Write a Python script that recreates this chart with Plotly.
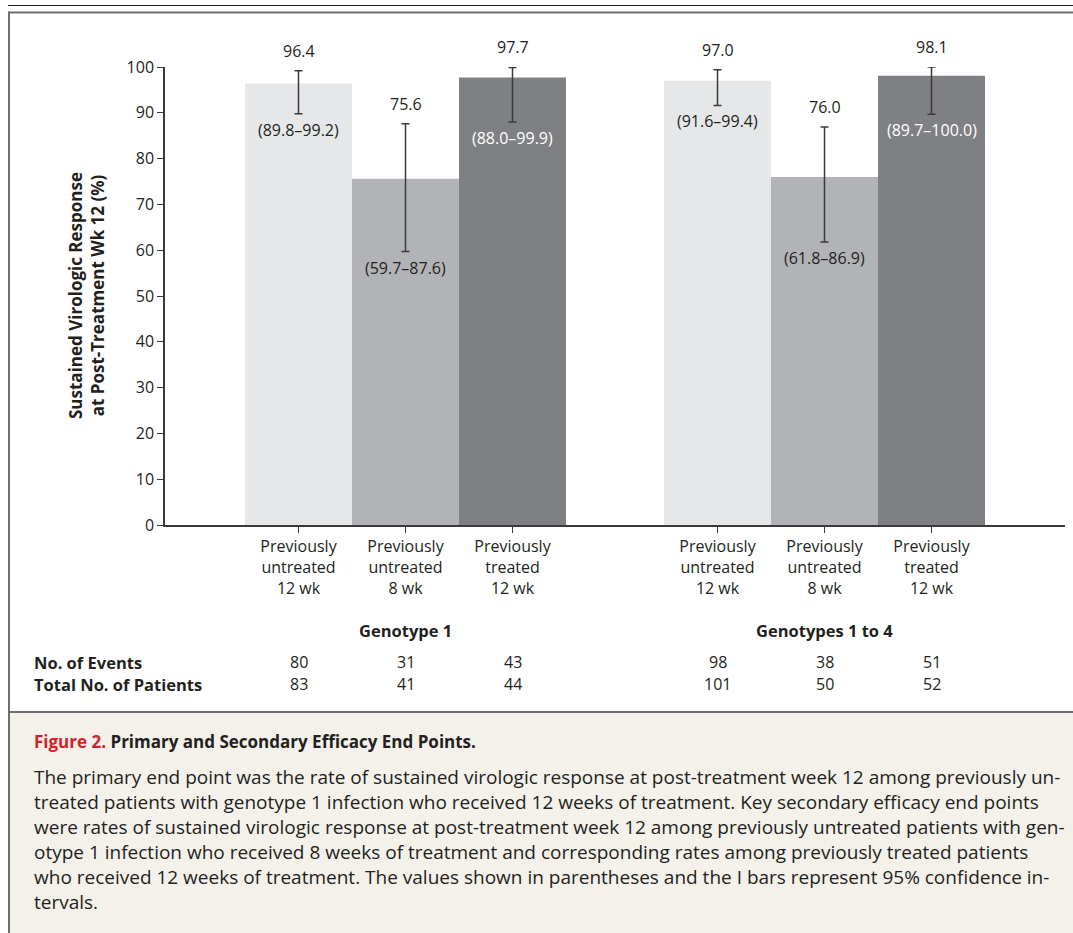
import plotly.graph_objects as go

W, H = 1073, 933

# ---- data ----
groups = ["Genotype 1", "Genotypes 1 to 4"]
categories = ["Previously<br>untreated<br>12 wk", "Previously<br>untreated<br>8 wk", "Previously<br>treated<br>12 wk"]
svr_g1 = [96.4, 75.6, 97.7]
ci_low_g1 = [89.8, 59.7, 88.0]
ci_high_g1 = [99.2, 87.6, 99.9]
svr_all = [97.0, 76.0, 98.1]
ci_low_all = [91.6, 61.8, 89.7]
ci_high_all = [99.4, 86.9, 100.0]
events_g1 = [80, 31, 43]
patients_g1 = [83, 41, 44]
events_all = [98, 38, 51]
patients_all = [101, 50, 52]
y_ticks = [0, 10, 20, 30, 40, 50, 60, 70, 80, 90, 100]

bar_colors = ["#e6e7e8", "#b2b3b6", "#7f8083"]
ci_text_colors = ["#231f20", "#231f20", "#ffffff"]
FONT = "Open Sans"
TXT = "#231f20"

# ---- layout geometry (pixels) ----
ax_left, ax_right = 165, 1065
ax_top, ax_bottom = 67, 525
bar_px = 107.0
x_max = (ax_right - ax_left) / bar_px
left_pad = 80 / bar_px
group_gap = 98 / bar_px


def py(y):
    return 1 - y / H


def pxx(x):
    return x / W


values = [svr_g1, svr_all]
lows = [ci_low_g1, ci_low_all]
highs = [ci_high_g1, ci_high_all]
events = [events_g1, events_all]
patients = [patients_g1, patients_all]

fig = go.Figure()
annotations = []
all_centers, all_text = [], []


def ann(**kw):
    kw.setdefault("showarrow", False)
    kw.setdefault("xanchor", "center")
    kw.setdefault("yanchor", "middle")
    annotations.append(kw)


for g in range(2):
    centers = [left_pad + g * (3 + group_gap) + i + 0.5 for i in range(3)]
    all_centers += centers
    all_text += categories
    for i in range(3):
        v, lo, hi = values[g][i], lows[g][i], highs[g][i]
        fig.add_trace(go.Bar(
            x=[centers[i]], y=[v], width=[1.0],
            marker=dict(color=bar_colors[i], line=dict(width=0)),
            error_y=dict(type="data", symmetric=False, array=[hi - v], arrayminus=[v - lo],
                         color="#3a3a3a", thickness=1.5, width=4),
            showlegend=False, hoverinfo="skip", cliponaxis=False,
        ))
        ann(x=centers[i], y=hi, xref="x", yref="y", text=f"{v:.1f}",
            yanchor="bottom", yshift=7, font=dict(family=FONT, size=16, color=TXT))
        ann(x=centers[i], y=lo, xref="x", yref="y", text=f"({lo:.1f}\u2013{hi:.1f})",
            yanchor="top", yshift=-3, font=dict(family=FONT, size=16, color=ci_text_colors[i]))
        ann(x=centers[i], y=py(662), xref="x", yref="paper", text=str(events[g][i]),
            font=dict(family=FONT, size=16, color=TXT))
        ann(x=centers[i], y=py(684), xref="x", yref="paper", text=str(patients[g][i]),
            font=dict(family=FONT, size=16, color=TXT))
    ann(x=centers[1], y=py(630), xref="x", yref="paper", text=f"<b>{groups[g]}</b>",
        font=dict(family=FONT, size=16.5, color=TXT))

# row labels
ann(x=pxx(32), y=py(662), xref="paper", yref="paper", xanchor="left",
    text="<b>No. of Events</b>", font=dict(family=FONT, size=16.5, color=TXT))
ann(x=pxx(32), y=py(684), xref="paper", yref="paper", xanchor="left",
    text="<b>Total No. of Patients</b>", font=dict(family=FONT, size=16.5, color=TXT))

# y-axis title
ann(x=pxx(86), y=py((ax_top + ax_bottom) / 2), xref="paper", yref="paper",
    text="<b>Sustained Virologic Response<br>at Post-Treatment Wk 12 (%)</b>",
    textangle=-90, font=dict(family=FONT, size=17, color=TXT))

# caption
caption_title = ("<span style='color:#d2232a'><b>Figure 2.</b></span> "
                 "<b>Primary and Secondary Efficacy End Points.</b>")
caption_lines = [
    "The primary end point was the rate of sustained virologic response at post-treatment week 12 among previously un-",
    "treated patients with genotype 1 infection who received 12 weeks of treatment. Key secondary efficacy end points",
    "were rates of sustained virologic response at post-treatment week 12 among previously untreated patients with gen-",
    "otype 1 infection who received 8 weeks of treatment and corresponding rates among previously treated patients",
    "who received 12 weeks of treatment. The values shown in parentheses and the I bars represent 95% confidence in-",
    "tervals.",
]
ann(x=pxx(32), y=py(741), xref="paper", yref="paper", xanchor="left",
    text=caption_title, font=dict(family=FONT, size=17, color=TXT))
for k, line in enumerate(caption_lines):
    ann(x=pxx(32), y=py(777 + 25 * k), xref="paper", yref="paper", xanchor="left",
        text=line, font=dict(family=FONT, size=19, color=TXT))

shapes = [
    dict(type="rect", xref="paper", yref="paper", x0=pxx(9), x1=1, y0=0, y1=py(712),
         fillcolor="#f4f1eb", line=dict(width=0), layer="below"),
    dict(type="line", xref="paper", yref="paper", x0=pxx(8), x1=1, y0=py(5.5), y1=py(5.5),
         line=dict(color="#231f20", width=1.2)),
    dict(type="line", xref="paper", yref="paper", x0=pxx(8), x1=1, y0=py(12.5), y1=py(12.5),
         line=dict(color="#6d6e71", width=2)),
    dict(type="line", xref="paper", yref="paper", x0=pxx(9), x1=pxx(9), y0=py(11.5), y1=0,
         line=dict(color="#6d6e71", width=2)),
    dict(type="line", xref="paper", yref="paper", x0=pxx(8), x1=1, y0=py(712), y1=py(712),
         line=dict(color="#6d6e71", width=2)),
]

fig.update_layout(
    width=W, height=H,
    margin=dict(l=0, r=0, t=0, b=0, autoexpand=False),
    paper_bgcolor="white", plot_bgcolor="white",
    barmode="overlay",
    annotations=annotations, shapes=shapes,
    xaxis=dict(domain=[pxx(ax_left), pxx(ax_right)], range=[0, x_max],
               tickvals=all_centers, ticktext=all_text, ticks="outside", ticklen=6,
               tickwidth=1.2, tickcolor="#3a3a3a", showline=True, linecolor="#3a3a3a",
               linewidth=1.5, showgrid=False, zeroline=False, fixedrange=True, automargin=False,
               tickfont=dict(family=FONT, size=16, color=TXT)),
    yaxis=dict(domain=[py(ax_bottom), py(ax_top)], range=[0, 100], tickvals=y_ticks,
               ticks="outside", ticklen=6, tickwidth=1.2, tickcolor="#3a3a3a",
               showline=True, linecolor="#3a3a3a", linewidth=1.5, showgrid=False,
               zeroline=False, fixedrange=True, automargin=False,
               tickfont=dict(family=FONT, size=16, color=TXT)),
)

fig.write_html(
    "out.html",
    config={"displayModeBar": False},
    post_script="document.body.style.margin='0';document.documentElement.style.overflow='hidden';",
)
